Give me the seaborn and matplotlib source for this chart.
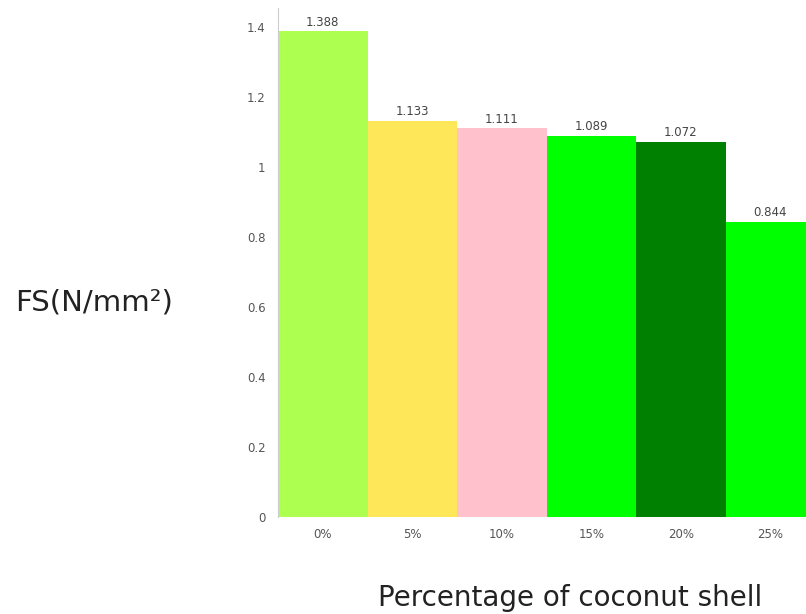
import matplotlib
matplotlib.use("Agg")
import matplotlib.pyplot as plt
import seaborn as sns
import pandas as pd

categories = ["0%", "5%", "10%", "15%", "20%", "25%"]
values = [1.388, 1.133, 1.111, 1.089, 1.072, 0.844]
value_labels = ["1.388", "1.133", "1.111", "1.089", "1.072", "0.844"]
bar_colors = ["#adff50", "#ffe75a", "#ffc2cc", "#00ff00", "#008000", "#00ff00"]
y_ticks = [0, 0.2, 0.4, 0.6, 0.8, 1.0, 1.2, 1.4]
y_tick_labels = ["0", "0.2", "0.4", "0.6", "0.8", "1", "1.2", "1.4"]

sns.set_theme(style="white")
plt.rcParams["font.family"] = ["DejaVu Sans"]

df = pd.DataFrame({"pct": categories, "fs": values})

fig = plt.figure(figsize=(8.06, 6.14), dpi=100)
ax = fig.add_axes([278/806, 1 - 517/614, 537/806, 509/614])

sns.barplot(data=df, x="pct", y="fs", hue="pct", palette=bar_colors,
            order=categories, hue_order=categories, width=1.0,
            saturation=1, legend=False, ax=ax, edgecolor="none")

for cont, lab in zip(ax.containers, value_labels):
    ax.bar_label(cont, labels=[lab], padding=2, fontsize=8.5, color="#444444")

ax.set_ylim(0, 1.455)
ax.set_xlim(-0.5, 5.5)
ax.set_yticks(y_ticks)
ax.set_yticklabels(y_tick_labels, fontsize=8.5, color="#555555")
ax.tick_params(axis="x", labelsize=8.5, colors="#555555", length=0, pad=8)
ax.tick_params(axis="y", length=0, pad=9)
for lbl in ax.get_xticklabels():
    lbl.set_color("#555555")

for s in ["top", "right", "bottom"]:
    ax.spines[s].set_visible(False)
ax.spines["left"].set_color("#cccccc")
ax.spines["left"].set_linewidth(0.8)

ax.set_xlabel("Percentage of coconut shell", fontsize=20, color="#222222")
ax.set_ylabel("FS(N/mm²)", fontsize=21, color="#222222", rotation=0,
              ha="center", va="center")
ax.xaxis.set_label_coords((570 - 278) / 537, (517 - 598) / 509)
ax.yaxis.set_label_coords((94 - 278) / 537, (517 - 302) / 509)
ax.xaxis.label.set_va("center")

fig.savefig("out.png", dpi=100)
